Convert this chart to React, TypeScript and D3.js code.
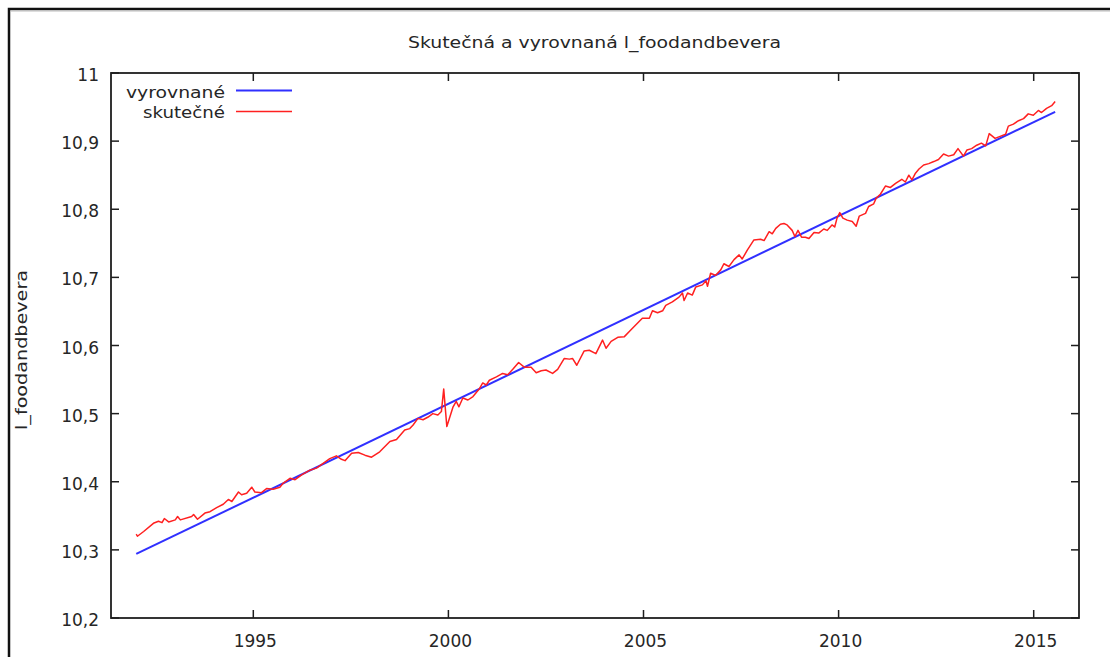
import React from "react";
import * as d3 from "d3";

const TITLE = "Skutečná a vyrovnaná l_foodandbevera";
const Y_LABEL = "l_foodandbevera";
const SERIES_NAMES = ["vyrovnané", "skutečné"];

const xTicks = [1995, 2000, 2005, 2010, 2015];
const yTicks = [10.2, 10.3, 10.4, 10.5, 10.6, 10.7, 10.8, 10.9, 11];

// fitted (linear trend) endpoints
const fittedDates = [1992.0, 2015.55];
const fittedValues = [10.294, 10.943];

const actualDates = [
  1992.0, 1992.03, 1992.19, 1992.44, 1992.57, 1992.66, 1992.72, 1992.83, 1993.0, 1993.06,
  1993.13, 1993.42, 1993.47, 1993.57, 1993.76, 1993.89, 1994.06, 1994.23, 1994.36, 1994.45,
  1994.62, 1994.7, 1994.83, 1994.96, 1995.04, 1995.21, 1995.34, 1995.51, 1995.68, 1995.77,
  1995.94, 1996.07, 1996.24, 1996.45, 1996.62, 1996.79, 1996.96, 1997.13, 1997.26, 1997.35,
  1997.52, 1997.69, 1997.86, 1998.03, 1998.24, 1998.5, 1998.67, 1998.88, 1999.01, 1999.09,
  1999.22, 1999.35, 1999.48, 1999.6, 1999.73, 1999.82, 1999.88, 1999.96, 2000.12, 2000.2,
  2000.27, 2000.37, 2000.5, 2000.63, 2000.8, 2000.88, 2000.97, 2001.05, 2001.23, 2001.39,
  2001.52, 2001.65, 2001.8, 2001.95, 2002.12, 2002.25, 2002.38, 2002.5, 2002.67, 2002.8,
  2002.97, 2003.1, 2003.18, 2003.29, 2003.48, 2003.61, 2003.78, 2003.95, 2004.04, 2004.17,
  2004.34, 2004.51, 2004.68, 2004.85, 2004.97, 2005.15, 2005.23, 2005.36, 2005.49, 2005.57,
  2005.74, 2005.91, 2006.0, 2006.04, 2006.13, 2006.25, 2006.34, 2006.51, 2006.6, 2006.64,
  2006.72, 2006.85, 2006.98, 2007.06, 2007.19, 2007.32, 2007.45, 2007.53, 2007.66, 2007.83,
  2008.0, 2008.09, 2008.22, 2008.3, 2008.39, 2008.51, 2008.6, 2008.68, 2008.81, 2008.88,
  2008.96, 2009.05, 2009.15, 2009.24, 2009.37, 2009.49, 2009.62, 2009.71, 2009.83, 2009.9,
  2009.96, 2010.03, 2010.11, 2010.22, 2010.35, 2010.45, 2010.53, 2010.69, 2010.77, 2010.9,
  2010.96, 2011.07, 2011.2, 2011.33, 2011.46, 2011.62, 2011.71, 2011.8, 2011.88, 2011.97,
  2012.06, 2012.18, 2012.31, 2012.44, 2012.56, 2012.69, 2012.82, 2012.95, 2013.06, 2013.2,
  2013.29, 2013.41, 2013.54, 2013.66, 2013.77, 2013.86, 2014.01, 2014.14, 2014.28, 2014.35,
  2014.48, 2014.61, 2014.74, 2014.86, 2014.99, 2015.12, 2015.2, 2015.33, 2015.46, 2015.55,
];
const actualValues = [
  10.323, 10.32, 10.327, 10.339, 10.342, 10.34, 10.346, 10.341, 10.344, 10.349,
  10.344, 10.349, 10.352, 10.345, 10.354, 10.356, 10.362, 10.367, 10.374, 10.371,
  10.385, 10.381, 10.383, 10.392, 10.385, 10.384, 10.39, 10.389, 10.392, 10.398,
  10.405, 10.403, 10.41, 10.417, 10.42, 10.427, 10.434, 10.438, 10.433, 10.431,
  10.442, 10.443, 10.439, 10.436, 10.444, 10.459, 10.462, 10.476, 10.478, 10.483,
  10.493, 10.491, 10.495, 10.5, 10.498, 10.503, 10.536, 10.481, 10.51, 10.518,
  10.51, 10.523, 10.52, 10.525, 10.537, 10.545, 10.542, 10.549, 10.554, 10.559,
  10.557, 10.565, 10.575, 10.568, 10.568, 10.56, 10.563, 10.564, 10.559, 10.565,
  10.581, 10.58, 10.581, 10.571, 10.592, 10.593, 10.588, 10.608, 10.596, 10.606,
  10.612, 10.613, 10.623, 10.633, 10.64, 10.64, 10.651, 10.648, 10.651, 10.659,
  10.664, 10.671, 10.677, 10.666, 10.677, 10.674, 10.686, 10.689, 10.695, 10.687,
  10.706, 10.703, 10.711, 10.72, 10.716, 10.726, 10.733, 10.727, 10.74, 10.755,
  10.756, 10.754, 10.767, 10.764, 10.772, 10.778, 10.779, 10.777, 10.769, 10.76,
  10.769, 10.759, 10.759, 10.757, 10.766, 10.765, 10.771, 10.769, 10.777, 10.774,
  10.787, 10.795, 10.787, 10.784, 10.782, 10.775, 10.79, 10.794, 10.804, 10.808,
  10.816, 10.822, 10.834, 10.832, 10.838, 10.844, 10.84, 10.85, 10.843, 10.853,
  10.859, 10.865, 10.867, 10.87, 10.873, 10.881, 10.878, 10.88, 10.889, 10.878,
  10.887, 10.889, 10.894, 10.897, 10.893, 10.911, 10.904, 10.907, 10.91, 10.922,
  10.925, 10.93, 10.933, 10.94, 10.938, 10.945, 10.942, 10.948, 10.952, 10.958,
];

const W = 1110;
const H = 657;
const PL = 111, PR = 1079, PT = 73, PB = 618;
const FONT = "'DejaVu Sans', Verdana, sans-serif";
const TXT = "#262626";
const AX = "#1e1e1e";

export default function App() {
  const x = d3.scaleLinear().domain([1991.353, 2016.161]).range([PL, PR]);
  const y = d3.scaleLinear().domain([10.2, 11]).range([PB, PT]);

  const actual = actualDates.map((d, i) => [d, actualValues[i]] as [number, number]);
  const fitted = fittedDates.map((d, i) => [d, fittedValues[i]] as [number, number]);
  const line = d3
    .line<[number, number]>()
    .x((d) => x(d[0]))
    .y((d) => y(d[1]));

  const tickLen = 8;
  const fmt = (v: number) => (Math.round(v * 10) / 10).toString().replace(".", ",");

  return (
    <svg
      width={W}
      height={H}
      style={{ position: "fixed", left: 0, top: 0, background: "#fff" }}
      fontFamily={FONT}
    >
      <rect x={0} y={0} width={W} height={H} fill="#fff" />
      {/* outer frame */}
      <path d={`M9,${H + 5} L9,9 L${W + 5},9`} fill="none" stroke="#111" strokeWidth={2.5} />
      <line x1={10.5} y1={11} x2={W} y2={11} stroke="#bbb" strokeWidth={1} />

      {/* title */}
      <text x={594.5} y={48} textAnchor="middle" fontSize={16} fill={TXT} textLength={373} lengthAdjust="spacingAndGlyphs">
        {TITLE}
      </text>

      {/* y label */}
      <text
        transform={`translate(27,350) rotate(-90)`}
        textAnchor="middle"
        fontSize={16}
        fill={TXT}
        textLength={160}
        lengthAdjust="spacingAndGlyphs"
      >
        {Y_LABEL}
      </text>

      {/* series */}
      <path d={line(fitted) || ""} fill="none" stroke="#3030ff" strokeWidth={2} />
      <path d={line(actual) || ""} fill="none" stroke="#ff2020" strokeWidth={1.5} strokeLinejoin="round" />

      {/* frame */}
      <rect x={PL} y={PT} width={PR - PL} height={PB - PT} fill="none" stroke={AX} strokeWidth={1.8} />

      {/* y ticks */}
      {yTicks.map((t) => (
        <g key={"y" + t}>
          <line x1={PL} x2={PL + tickLen} y1={y(t)} y2={y(t)} stroke={AX} strokeWidth={1.5} />
          <line x1={PR} x2={PR - tickLen} y1={y(t)} y2={y(t)} stroke={AX} strokeWidth={1.5} />
          <text x={PL - 12} y={y(t) + 8} textAnchor="end" fontSize={17} fill={TXT}>
            {fmt(t)}
          </text>
        </g>
      ))}

      {/* x ticks */}
      {xTicks.map((t) => (
        <g key={"x" + t}>
          <line x1={x(t)} x2={x(t)} y1={PB} y2={PB - tickLen} stroke={AX} strokeWidth={1.5} />
          <line x1={x(t)} x2={x(t)} y1={PT} y2={PT + tickLen} stroke={AX} strokeWidth={1.5} />
          <text x={x(t) + 2} y={647} textAnchor="middle" fontSize={17} fill={TXT}>
            {t}
          </text>
        </g>
      ))}

      {/* legend */}
      <text x={225} y={98} textAnchor="end" fontSize={16} fill={TXT} textLength={99} lengthAdjust="spacingAndGlyphs">
        {SERIES_NAMES[0]}
      </text>
      <line x1={236} x2={292} y1={90.5} y2={90.5} stroke="#3030ff" strokeWidth={2} />
      <text x={225} y={118} textAnchor="end" fontSize={16} fill={TXT} textLength={82} lengthAdjust="spacingAndGlyphs">
        {SERIES_NAMES[1]}
      </text>
      <line x1={236} x2={292} y1={111.5} y2={111.5} stroke="#ff2020" strokeWidth={1.5} />
    </svg>
  );
}
